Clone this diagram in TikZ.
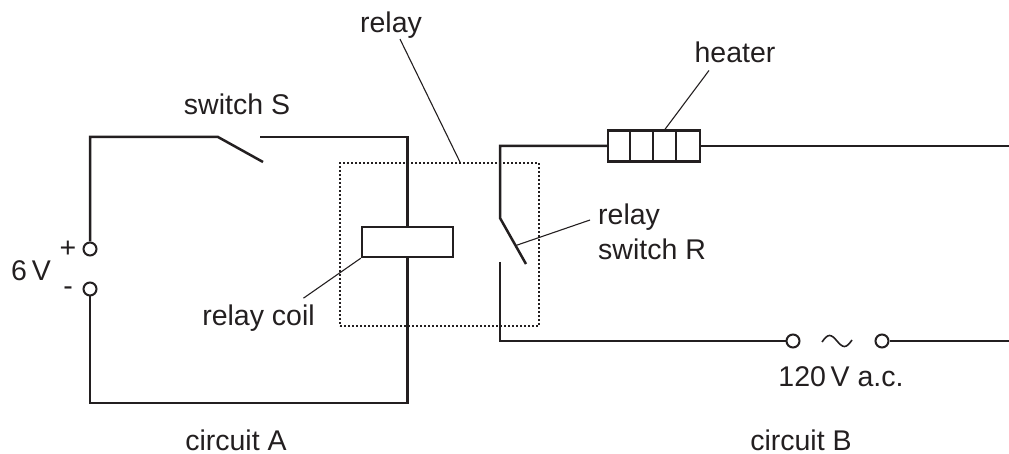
\documentclass[tikz,border=0pt]{standalone}
\usepackage{fontspec}
\setmainfont{Liberation Sans}
\usetikzlibrary{positioning,calc}
\definecolor{ink}{HTML}{231F20}

\begin{document}
\begin{tikzpicture}[x=1pt, y=-1pt, color=ink,
    wire/.style = {line width=2.5pt},
    pointer/.style = {line width=1.1pt},
    terminal/.style = {circle, draw, line width=2pt, inner sep=0pt, minimum size=13pt, fill=white},
    txt/.style = {font=\fontsize{28.5}{35}\selectfont, inner sep=0pt},
    boxpart/.style = {draw, line width=2.4pt, inner sep=0pt}]
    \useasboundingbox (0,0) rectangle (1009,454);

    % circuit A
    \node[terminal] (plus) at (90,249) {};
    \node[terminal] (minus) at (90,289) {};
    \node[boxpart, minimum width=91pt, minimum height=30pt] (coil) at (407.5,242) {};
    \coordinate (sA) at (218,137);
    \coordinate (sB) at (263,162);
    \coordinate (sC) at (260,137);
    \coordinate (tr) at (407.5,137);
    \coordinate (br) at (407.5,403);
    \draw[wire] (plus.north) |- (sA) -- (sB);
    \draw[wire] (sC) -- (tr) -- (coil.north);
    \draw[wire] (minus.south) |- (br) -- (coil.south);

    % relay outline
    \node[draw, line width=1.8pt, dash pattern=on 1.8pt off 2.2pt, minimum width=199pt, minimum height=163pt,
          inner sep=0pt] (relay) at (439.5,244.5) {};

    % circuit B
    \node[boxpart, minimum width=92pt, minimum height=31pt] (heater) at (654,146) {};
    \foreach \i in {1,2,3}
        \draw[line width=2.4pt] ([xshift=\i*23pt]heater.north west) -- ([xshift=\i*23pt]heater.south west);
    \coordinate (rtop) at (500,146);
    \coordinate (rblade) at (500,218);
    \coordinate (rtip) at (526,264);
    \coordinate (rlow) at (500,262);
    \coordinate (rbot) at (500,341);
    \coordinate (outT) at (1009,146);
    \coordinate (outB) at (1009,341);
    \node[terminal] (acL) at (793,341) {};
    \node[terminal] (acR) at (882,341) {};
    \draw[wire] (heater.west) -- (rtop) -- (rblade) -- (rtip);
    \draw[wire] (heater.east) -- (outT);
    \draw[wire] (rlow) -- (rbot) -- (acL.west);
    \draw[wire] (acR.east) -- (outB);
    \draw[line width=1.6pt] (822,342) sin (829.5,335.5) cos (837,341) sin (844.5,346.5) cos (852,340);

    % labels
    \node[txt, anchor=base] (swS) at (237,115) {switch S};
    \node[txt, anchor=base] (sixV) at (31,280) {6\,V};
    \node[txt] (plussign) at (68,249) {+};
    \node[txt] (minussign) at (68,291) {-};
    \node[txt, anchor=base] (coiltxt) at (258.5,325) {relay coil};
    \node[txt, anchor=base] (relaytxt) at (391,33) {relay};
    \node[txt, anchor=base] (heatertxt) at (735,63) {heater};
    \node[txt, anchor=north west, align=left] (rswtxt) at (598,203.5) {relay\\switch R};
    \node[txt, anchor=base] (actxt) at (841,386) {120\,V a.c.};
    \node[txt, anchor=base] (circA) at (236,450) {circuit A};
    \node[txt, anchor=base] (circB) at (801,450) {circuit B};

    % pointers
    \draw[pointer] ([xshift=9pt]relaytxt.south) -- ([xshift=20.5pt]relay.north);
    \draw[pointer] (coil.south west) -- ([xshift=45pt,yshift=6pt]coiltxt.north);
    \draw[pointer] ([xshift=-26pt,yshift=-7pt]heatertxt.south) -- ([xshift=11pt]heater.north);
    \draw[pointer] ([xshift=-8pt,yshift=-16.5pt]rswtxt.north west) -- ($(rblade)!0.6!(rtip)$);
\end{tikzpicture}
\end{document}
